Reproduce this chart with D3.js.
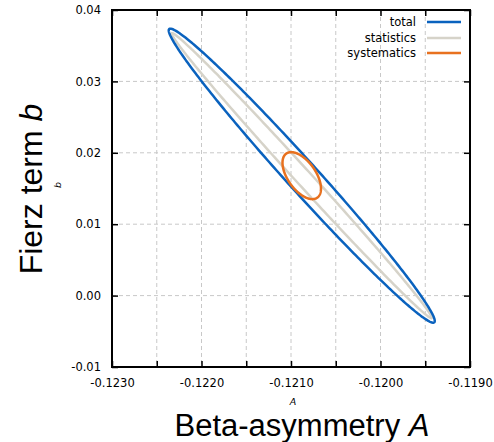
<!DOCTYPE html>
<html>
<head>
<meta charset="utf-8">
<script src="https://cdn.jsdelivr.net/npm/d3@7"></script>
<style>
  html, body { margin: 0; padding: 0; background: #fff; }
  svg { display: block; }
</style>
</head>
<body>
<svg id="chart" width="494" height="442"></svg>
<script>
// Confidence contours in the (A, b) plane
const contourNames = ["total", "statistics", "systematics"];
const contourColors = ["#0a62be", "#d6d3c9", "#e8711f"];
const centerA = [-0.12088, -0.12088, -0.12088];
const centerB = [0.0168, 0.0168, 0.0168];
const sigmaA = [0.001486, 0.001453, 0.000215];
const sigmaB = [0.02059, 0.01996, 0.00329];
const rhoAB = [-0.988, -0.9967, -0.55];
const drawOrder = [1, 0, 2];

const xTicks = [-0.1230, -0.1225, -0.1220, -0.1215, -0.1210, -0.1205, -0.1200, -0.1195, -0.1190];
const xTickLabels = ["-0.1230", "", "-0.1220", "", "-0.1210", "", "-0.1200", "", "-0.1190"];
const yTicks = [-0.01, 0.00, 0.01, 0.02, 0.03, 0.04];
const yTickLabels = ["-0.01", "0.00", "0.01", "0.02", "0.03", "0.04"];

const svg = d3.select("#chart");
const L = 112, R = 470, T = 10, B = 367;

const x = d3.scaleLinear().domain([-0.1230, -0.1190]).range([L, R]);
const y = d3.scaleLinear().domain([-0.01, 0.04]).range([B, T]);

// grid
const grid = svg.append("g").attr("stroke", "#c8c8c8").attr("stroke-width", 1).attr("stroke-dasharray", "4,3");
xTicks.slice(1, -1).forEach(v => {
  grid.append("line").attr("x1", x(v)).attr("x2", x(v)).attr("y1", T).attr("y2", B);
});
yTicks.slice(1, -1).forEach(v => {
  grid.append("line").attr("x1", L).attr("x2", R).attr("y1", y(v)).attr("y2", y(v));
});

// contours
const line = d3.line().x(d => x(d[0])).y(d => y(d[1])).curve(d3.curveLinearClosed);
const nPts = 360;
drawOrder.forEach(i => {
  const pts = d3.range(nPts).map(k => {
    const t = 2 * Math.PI * k / nPts;
    const a = centerA[i] + sigmaA[i] * Math.cos(t);
    const b = centerB[i] + sigmaB[i] * (rhoAB[i] * Math.cos(t) + Math.sqrt(1 - rhoAB[i] * rhoAB[i]) * Math.sin(t));
    return [a, b];
  });
  svg.append("path").attr("d", line(pts)).attr("fill", "none")
    .attr("stroke", contourColors[i]).attr("stroke-width", 2.5);
});

// axes: ticks drawn inward on all four sides
const tickLen = 6;
const axG = svg.append("g");
const axBottom = axG.append("g").attr("transform", `translate(0,${B})`)
  .call(d3.axisBottom(x).tickValues(xTicks).tickSize(-tickLen).tickPadding(12)
    .tickFormat((d, i) => xTickLabels[i]));
const axTop = axG.append("g").attr("transform", `translate(0,${T})`)
  .call(d3.axisTop(x).tickValues(xTicks).tickSize(-tickLen).tickFormat(""));
const axLeft = axG.append("g").attr("transform", `translate(${L},0)`)
  .call(d3.axisLeft(y).tickValues(yTicks).tickSize(-tickLen).tickPadding(11)
    .tickFormat((d, i) => yTickLabels[i]));
const axRight = axG.append("g").attr("transform", `translate(${R},0)`)
  .call(d3.axisRight(y).tickValues(yTicks).tickSize(-tickLen).tickFormat(""));
[axBottom, axTop, axLeft, axRight].forEach(g => {
  g.attr("font-family", null).attr("font-size", null);
  g.select(".domain").remove();
  g.selectAll(".tick line").attr("stroke", "#000").attr("stroke-width", 1.5);
  g.selectAll(".tick text").style("font-family", "'DejaVu Sans', Verdana, sans-serif")
    .style("font-size", "11.5px").attr("fill", "#000");
});

// border
svg.append("rect").attr("x", L).attr("y", T).attr("width", R - L).attr("height", B - T)
  .attr("fill", "none").attr("stroke", "#000").attr("stroke-width", 2);

// legend
const leg = svg.append("g").style("font-family", "'DejaVu Sans', Verdana, sans-serif").style("font-size", "11.5px");
const legY = [22, 38, 53];
contourNames.forEach((name, i) => {
  leg.append("text").attr("x", 416).attr("y", legY[i]).attr("dy", "0.35em")
    .attr("text-anchor", "end").text(name);
  leg.append("line").attr("x1", 427).attr("x2", 461).attr("y1", legY[i]).attr("y2", legY[i])
    .attr("stroke", contourColors[i]).attr("stroke-width", 2.5);
});

// axis titles
svg.append("text").attr("x", 302).attr("y", 436).attr("text-anchor", "middle")
  .style("font-family", "'Liberation Sans', Arial, sans-serif").style("font-size", "31px")
  .html('Beta-asymmetry <tspan font-style="italic">A</tspan>');
svg.append("text").attr("x", 293).attr("y", 405).attr("text-anchor", "middle")
  .style("font-family", "'DejaVu Sans', Verdana, sans-serif").style("font-size", "9.5px")
  .attr("font-style", "italic").text("A");
svg.append("text").attr("transform", "translate(42,189) rotate(-90)").attr("text-anchor", "middle")
  .style("font-family", "'Liberation Sans', Arial, sans-serif").style("font-size", "32px")
  .html('Fierz term <tspan font-style="italic">b</tspan>');
svg.append("text").attr("transform", "translate(61,185) rotate(-90)").attr("text-anchor", "middle")
  .style("font-family", "'DejaVu Sans', Verdana, sans-serif").style("font-size", "9.5px")
  .attr("font-style", "italic").text("b");
</script>
</body>
</html>
